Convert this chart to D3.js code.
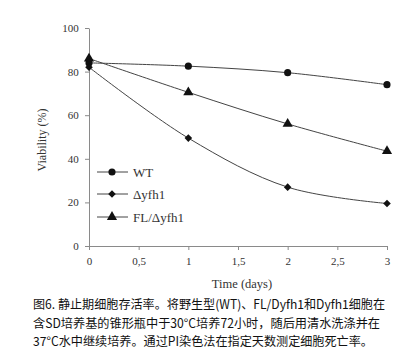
<!DOCTYPE html>
<html><head><meta charset="utf-8">
<script src="https://cdn.jsdelivr.net/npm/d3@7"></script>
<style>body{margin:0;background:#fff}</style>
</head><body>
<script>
const days = [0, 1, 2, 3];
const wt = [84, 82.5, 79.5, 74];
const dyfh1 = [82, 49.5, 27, 19.5];
const fl = [86, 70.5, 56, 43.5];
const seriesNames = ["WT", "\u0394yfh1", "FL/\u0394yfh1"];
const xTicks = [0, 0.5, 1, 1.5, 2, 2.5, 3];
const xTickLabels = ["0", "0,5", "1", "1,5", "2", "2,5", "3"];
const yTicks = [0, 20, 40, 60, 80, 100];
const captionLines = [
  "图6. 静止期细胞存活率。将野生型(WT)、FL/Dyfh1和Dyfh1细胞在",
  "含SD培养基的锥形瓶中于30°C培养72小时，随后用清水洗涤并在",
  "37°C水中继续培养。通过PI染色法在指定天数测定细胞死亡率。"
];
const captionWidths = [352, 347, 340];

const W = 401, H = 354;
const svg = d3.select("body").append("svg").attr("width", W).attr("height", H);
const x = d3.scaleLinear().domain([0, 3]).range([89, 387]);
const y = d3.scaleLinear().domain([0, 100]).range([246, 28]);
const serif = "'Liberation Serif','DejaVu Serif',serif";
const axisCol = "#8a8a8a";

const xa = svg.append("g").attr("transform", "translate(0,246)")
  .call(d3.axisBottom(x).tickValues(xTicks).tickFormat((d, i) => xTickLabels[i]).tickSize(4).tickSizeOuter(0));
const ya = svg.append("g").attr("transform", "translate(89,0)")
  .call(d3.axisLeft(y).tickValues(yTicks).tickSize(4).tickSizeOuter(0));
[xa, ya].forEach(g => {
  g.select(".domain").attr("stroke", axisCol);
  g.selectAll(".tick line").attr("stroke", axisCol);
  g.selectAll("text").attr("font-family", serif).attr("font-size", 11).attr("fill", "#333");
});
xa.selectAll("text").attr("dy", "1.1em");
ya.selectAll("text").attr("dx", "-0.3em");

svg.append("text").attr("x", 242).attr("y", 288).attr("text-anchor", "middle")
  .attr("font-family", serif).attr("font-size", 12.5).attr("fill", "#333").text("Time (days)");
svg.append("text").attr("transform", "translate(46,140) rotate(-90)").attr("text-anchor", "middle")
  .attr("font-family", serif).attr("font-size", 12).attr("fill", "#333").text("Viability (%)");

const diamond = {draw(ctx, size) { const r = Math.sqrt(size) / 2 * 1.2; ctx.moveTo(0, -r); ctx.lineTo(r, 0); ctx.lineTo(0, r); ctx.lineTo(-r, 0); ctx.closePath(); }};
const series = [
  {name: seriesNames[0], vals: wt, shape: d3.symbolCircle, size: 40},
  {name: seriesNames[1], vals: dyfh1, shape: diamond, size: 40},
  {name: seriesNames[2], vals: fl, shape: d3.symbolTriangle, size: 45}
];
const line = d3.line().x((d, i) => x(days[i])).y(d => y(d)).curve(d3.curveCatmullRom.alpha(0.5));
series.forEach(s => {
  svg.append("path").attr("d", line(s.vals)).attr("fill", "none").attr("stroke", "#444").attr("stroke-width", 1);
  svg.selectAll(null).data(s.vals).enter().append("path")
    .attr("d", d3.symbol().type(s.shape).size(s.size))
    .attr("transform", (d, i) => `translate(${x(days[i])},${y(d)})`)
    .attr("fill", "#111");
});

const legY = [172, 194, 217];
series.forEach((s, i) => {
  svg.append("line").attr("x1", 97).attr("x2", 128).attr("y1", legY[i]).attr("y2", legY[i]).attr("stroke", "#444");
  svg.append("path").attr("d", d3.symbol().type(s.shape).size(s.size)).attr("transform", `translate(112,${legY[i]})`).attr("fill", "#111");
  svg.append("text").attr("x", 133).attr("y", legY[i] + 4.5).attr("font-family", serif).attr("font-size", 13).attr("fill", "#333").text(s.name);
});

captionLines.forEach((t, i) => {
  svg.append("text").attr("x", 33).attr("y", 309 + i * 18.5).attr("font-family", "'Noto Sans CJK SC',sans-serif")
    .attr("font-size", 12.5).attr("fill", "#111")
    .attr("textLength", captionWidths[i]).attr("lengthAdjust", "spacingAndGlyphs").text(t);
});
</script>
</body></html>
